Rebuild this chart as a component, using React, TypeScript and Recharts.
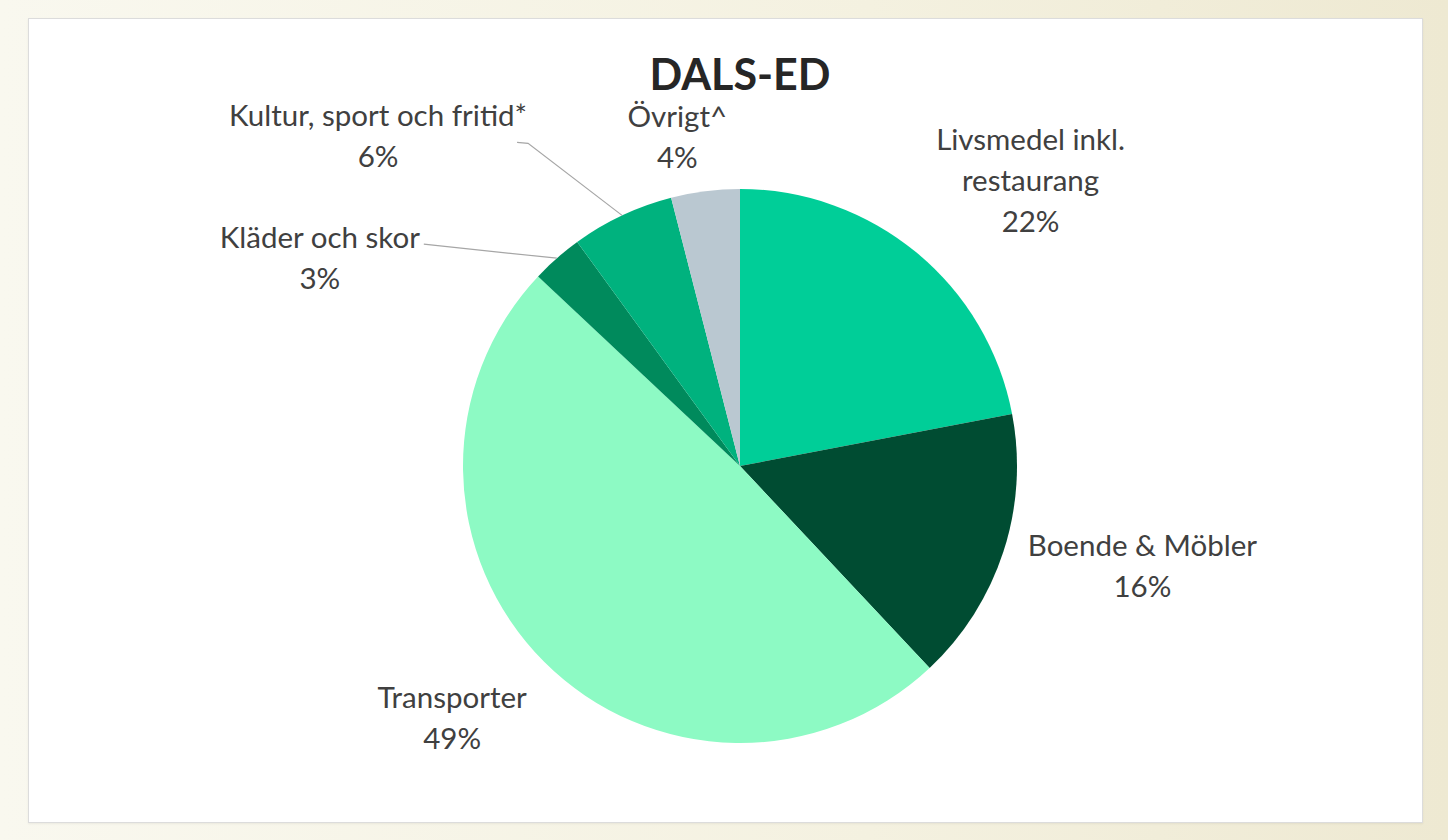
import React from 'react';
import { PieChart, Pie, Cell } from 'recharts';

// ---- data ----
const categories = [
  'Livsmedel inkl. restaurang',
  'Boende & Möbler',
  'Transporter',
  'Kläder och skor',
  'Kultur, sport och fritid*',
  'Övrigt^',
];
const shares = [22, 16, 49, 3, 6, 4];
const labelLines = [
  ['Livsmedel inkl.', 'restaurang'],
  ['Boende & Möbler'],
  ['Transporter'],
  ['Kläder och skor'],
  ['Kultur, sport och fritid*'],
  ['Övrigt^'],
];
const title = 'DALS-ED';

// ---- style ----
const sliceColors = ['#00CE98', '#004C32', '#8DFAC4', '#008A5C', '#00B27E', '#BAC8D1'];
// label block centre offset from the slice's outer-edge midpoint
const labelOffsets: [number, number][] = [
  [114, -73],
  [139, 13],
  [-92, 55],
  [-237, -1],
  [-244, -80],
  [-28, -55],
];
// leader lines: points relative to label centre, then to slice edge
const leaders: ([number, number][] | null)[] = [
  null,
  null,
  null,
  [[104, -13]],
  [[139, 7], [150, 8]],
  null,
];

const FONT = 'Lato, "Open Sans", sans-serif';
const LINE_H = 41;
const RAD = Math.PI / 180;

const data = categories.map((name, i) => ({ name, value: shares[i] }));

const renderLabel = (props: any) => {
  const { cx, cy, midAngle, outerRadius, index, value } = props;
  const ex = cx + outerRadius * Math.cos(-midAngle * RAD);
  const ey = cy + outerRadius * Math.sin(-midAngle * RAD);
  const [ox, oy] = labelOffsets[index];
  const lx = ex + ox;
  const ly = ey + oy;
  const lines = [...labelLines[index], `${value}%`];
  const n = lines.length;
  const leader = leaders[index];
  let path: string | null = null;
  if (leader) {
    const pts = leader.map(([dx, dy]) => `${lx + dx},${ly + dy}`);
    path = `M${pts.join(' L')} L${ex},${ey}`;
  }
  return (
    <g key={`lbl-${index}`}>
      {path && <path d={path} stroke="#A6A6A6" strokeWidth={1.2} fill="none" />}
      <text
        x={lx}
        y={ly}
        textAnchor="middle"
        fill="#404040"
        style={{ fontFamily: FONT, fontSize: 29.5 }}
      >
        {lines.map((t, i) => (
          <tspan key={i} x={lx} y={ly + (i - (n - 1) / 2) * LINE_H} dominantBaseline="central">
            {t}
          </tspan>
        ))}
      </text>
    </g>
  );
};

export default function App() {
  return (
    <div
      style={{
        position: 'absolute',
        left: 0,
        top: 0,
        width: 1448,
        height: 840,
        background: 'linear-gradient(to right, #F9F8EF 0%, #F4F1E0 60%, #EEE9D2 100%)',
        overflow: 'hidden',
      }}
    >
      <div
        style={{
          position: 'absolute',
          left: 28,
          top: 18,
          width: 1393,
          height: 803,
          background: '#FFFFFF',
          border: '1px solid #DCDCDC',
          boxShadow: '0 1px 2px rgba(0,0,0,0.06)',
        }}
      />
      <div style={{ position: 'absolute', left: 0, top: 0 }}>
        <PieChart width={1448} height={840} margin={{ top: 0, right: 0, bottom: 0, left: 0 }}>
          <Pie
            data={data}
            dataKey="value"
            nameKey="name"
            cx={740}
            cy={466}
            outerRadius={277}
            startAngle={90}
            endAngle={-270}
            stroke="none"
            label={renderLabel}
            labelLine={false}
            isAnimationActive={false}
          >
            {data.map((d, i) => (
              <Cell key={d.name} fill={sliceColors[i]} />
            ))}
          </Pie>
        </PieChart>
      </div>
      <svg
        width={1448}
        height={840}
        style={{ position: 'absolute', left: 0, top: 0, pointerEvents: 'none' }}
      >
        <text
          x={740}
          y={90}
          textAnchor="middle"
          fill="#262626"
          style={{ fontFamily: FONT, fontSize: 43, fontWeight: 700 }}
        >
          {title}
        </text>
      </svg>
    </div>
  );
}
